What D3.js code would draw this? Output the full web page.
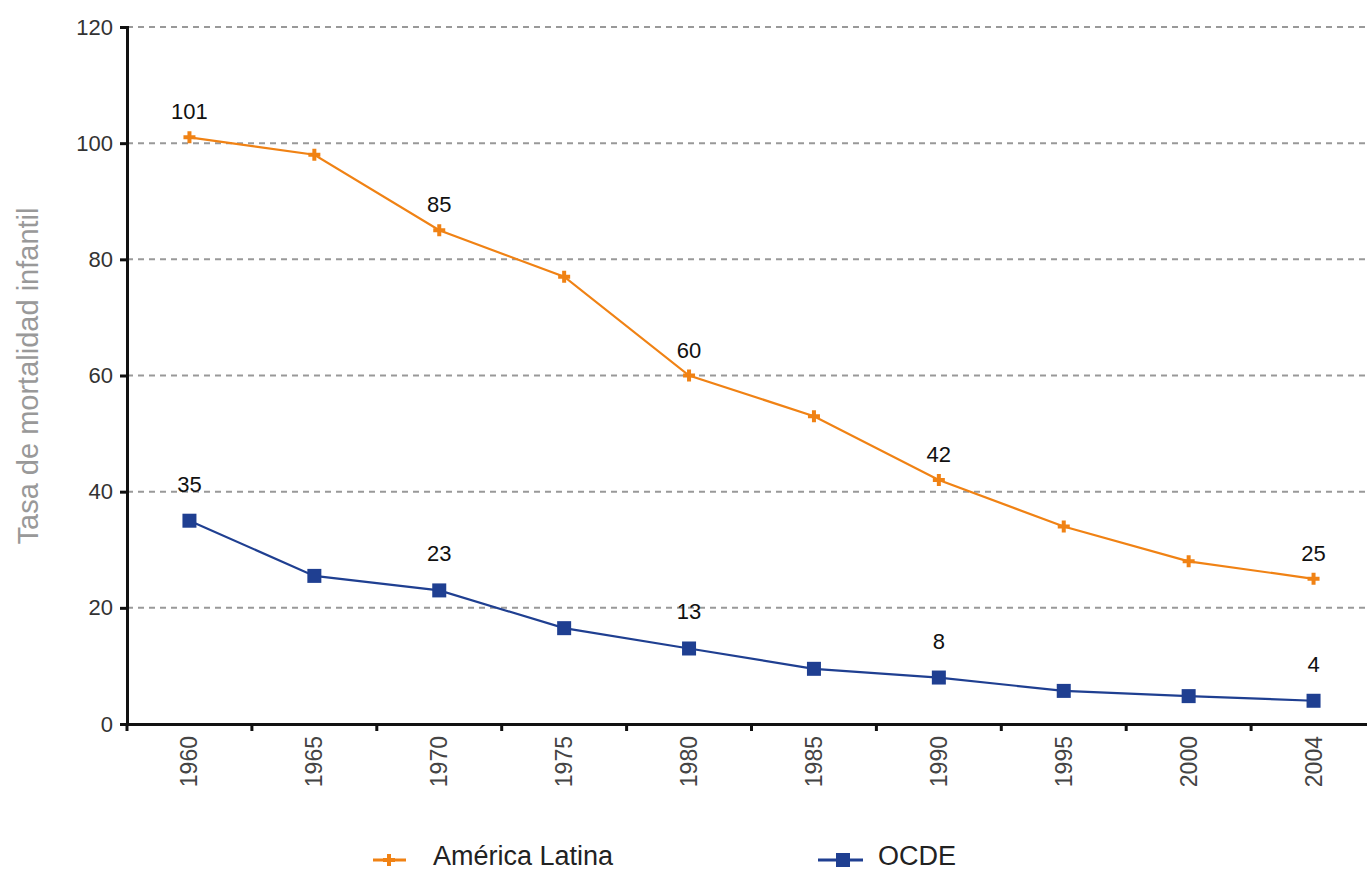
<!DOCTYPE html>
<html><head><meta charset="utf-8">
<script src="https://cdn.jsdelivr.net/npm/d3@7"></script>
<style>body{margin:0;background:#fff;} svg{display:block;}</style>
</head><body>
<svg id="c" width="1367" height="873"></svg>
<script>
const years = ["1960","1965","1970","1975","1980","1985","1990","1995","2000","2004"];
const americaLatina = [101, 98, 85, 77, 60, 53, 42, 34, 28, 25];
const ocde = [35, 25.5, 23, 16.5, 13, 9.5, 8, 5.7, 4.8, 4];
const labelledYears = ["1960","1970","1980","1990","2004"];
const yTicks = [0, 20, 40, 60, 80, 100, 120];
const seriesNames = ["América Latina", "OCDE"];

(function(){
const svg = d3.select("#c");
const mLeft = 127, mTop = 27, mBottom = 724, mRight = 1376;
const x = d3.scaleBand().domain(years).range([mLeft, mRight]);
const y = d3.scaleLinear().domain([0, 120]).range([mBottom, mTop]);
const font = "Liberation Sans, Arial, sans-serif";
const orange = "#F08214", blue = "#1F3F91";

// grid
svg.append("g").selectAll("line").data(yTicks.filter(d => d > 0)).join("line")
  .attr("x1", mLeft).attr("x2", 1367).attr("y1", d => y(d)).attr("y2", d => y(d))
  .attr("stroke", "#999").attr("stroke-width", 2).attr("stroke-dasharray", "6,5");

// y axis
const ya = svg.append("g").attr("transform", `translate(${mLeft},0)`)
  .call(d3.axisLeft(y).tickValues(yTicks).tickSize(7).tickPadding(7));
ya.select(".domain").attr("stroke", "#111").attr("stroke-width", 3);
ya.selectAll(".tick line").attr("stroke", "#111").attr("stroke-width", 3);
ya.selectAll("text").attr("font-family", font).attr("font-size", 22).attr("fill", "#333");

// x axis
const xa = svg.append("g").attr("transform", `translate(0,${mBottom})`)
  .call(d3.axisBottom(x).tickSize(0).tickPadding(0));
xa.select(".domain").attr("stroke", "#111").attr("stroke-width", 3);
xa.selectAll(".tick text").attr("font-family", font).attr("font-size", 23).attr("fill", "#444")
  .attr("text-anchor", "end").attr("dy", null)
  .attr("transform", "translate(0,12) rotate(-90)").attr("y", 0).attr("x", 0)
  .attr("dominant-baseline", "central");
// boundary ticks
const bounds = years.map(d => x(d)).concat([x(years[years.length-1]) + x.bandwidth()]);
svg.append("g").selectAll("line").data(bounds).join("line")
  .attr("x1", d => d).attr("x2", d => d).attr("y1", mBottom).attr("y2", mBottom + 7)
  .attr("stroke", "#111").attr("stroke-width", 3);

// y title
svg.append("text").attr("transform", `translate(38,376) rotate(-90)`)
  .attr("text-anchor", "middle").attr("font-family", font).attr("font-size", 29)
  .attr("fill", "#999").text("Tasa de mortalidad infantil");

const cx = d => x(d) + x.bandwidth() / 2;
const line = d3.line().x((d, i) => cx(years[i])).y(d => y(d));

const star = d3.symbol().type(d3.symbolCross).size(80);

// series
svg.append("path").datum(americaLatina).attr("d", line).attr("fill", "none")
  .attr("stroke", orange).attr("stroke-width", 2.2);
svg.append("g").selectAll("path").data(americaLatina).join("path")
  .attr("d", star).attr("transform", (d, i) => `translate(${cx(years[i])},${y(d)})`)
  .attr("fill", orange);

svg.append("path").datum(ocde).attr("d", line).attr("fill", "none")
  .attr("stroke", blue).attr("stroke-width", 2.2);
svg.append("g").selectAll("rect").data(ocde).join("rect")
  .attr("x", (d, i) => cx(years[i]) - 7).attr("y", d => y(d) - 7)
  .attr("width", 14).attr("height", 14).attr("fill", blue);

// value labels
const lab = (arr, off) => svg.append("g").selectAll("text")
  .data(arr.map((v, i) => ({v, yr: years[i]})).filter(d => labelledYears.includes(d.yr)))
  .join("text").attr("x", d => cx(d.yr)).attr("y", d => y(d.v) - off)
  .attr("text-anchor", "middle").attr("font-family", font).attr("font-size", 22)
  .attr("fill", "#111").text(d => Math.round(d.v));
lab(americaLatina, 18);
lab(ocde, 29);

// legend
const lg = svg.append("g");
lg.append("line").attr("x1", 373).attr("x2", 406).attr("y1", 860).attr("y2", 860)
  .attr("stroke", orange).attr("stroke-width", 3);
lg.append("path").attr("d", star).attr("transform", "translate(389,860)").attr("fill", orange);
lg.append("text").attr("x", 433).attr("y", 865).attr("font-family", font).attr("font-size", 27)
  .attr("fill", "#222").text(seriesNames[0]);
lg.append("line").attr("x1", 818).attr("x2", 863).attr("y1", 860).attr("y2", 860)
  .attr("stroke", blue).attr("stroke-width", 3);
lg.append("rect").attr("x", 836).attr("y", 853).attr("width", 14).attr("height", 14).attr("fill", blue);
lg.append("text").attr("x", 878).attr("y", 865).attr("font-family", font).attr("font-size", 27)
  .attr("fill", "#222").text(seriesNames[1]);
})();
</script>
</body></html>
